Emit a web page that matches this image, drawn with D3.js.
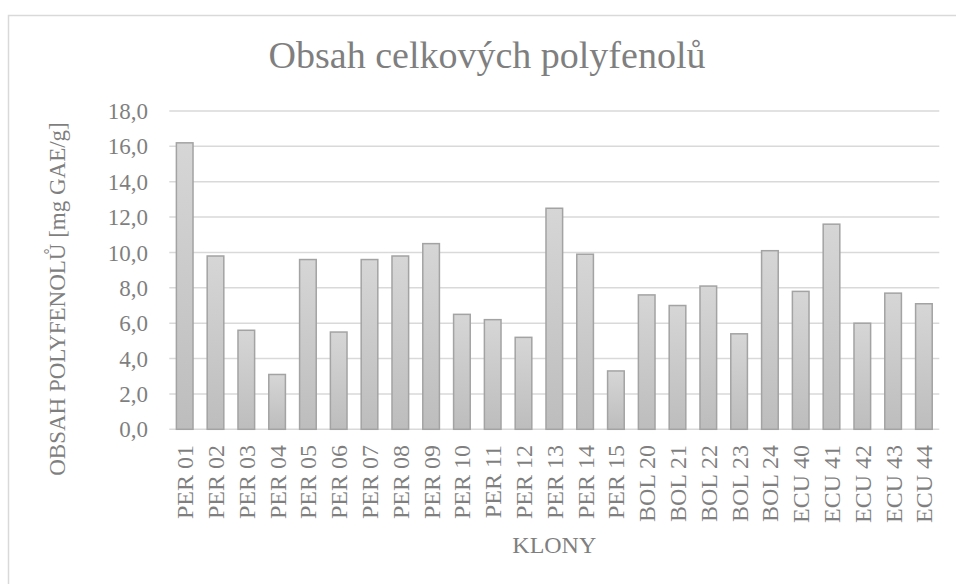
<!DOCTYPE html>
<html>
<head>
<meta charset="utf-8">
<script src="https://cdn.jsdelivr.net/npm/d3@7"></script>
<style>
  html, body { margin: 0; padding: 0; background: #fff; }
  svg text { font-family: "Times New Roman", "Liberation Serif", "DejaVu Serif", serif; }
</style>
</head>
<body>
<svg id="chart" width="956" height="584"></svg>
<script>
// Clones and their total polyphenol content [mg GAE/g]
const clones = ["PER 01","PER 02","PER 03","PER 04","PER 05","PER 06","PER 07","PER 08","PER 09",
  "PER 10","PER 11","PER 12","PER 13","PER 14","PER 15","BOL 20","BOL 21","BOL 22","BOL 23","BOL 24",
  "ECU 40","ECU 41","ECU 42","ECU 43","ECU 44"];
const polyphenols = [16.2, 9.8, 5.6, 3.1, 9.6, 5.5, 9.6, 9.8, 10.5, 6.5, 6.2, 5.2, 12.5, 9.9, 3.3,
  7.6, 7.0, 8.1, 5.4, 10.1, 7.8, 11.6, 6.0, 7.7, 7.1];
const yTicks = [0, 2, 4, 6, 8, 10, 12, 14, 16, 18];

const titleText = "Obsah celkových polyfenolů";
const xTitle = "KLONY";
const yTitle = "OBSAH POLYFENOLŮ [mg GAE/g]";

const svg = d3.select("#chart");
const serif = "'Times New Roman', 'Liberation Serif', 'DejaVu Serif', serif";
const textColor = "#7f7f7f";
const gridColor = "#d9d9d9";

const plot = { left: 169.3, right: 939.3, top: 111, bottom: 429.3 };

// Chart frame (open to the right and bottom)
svg.append("path")
  .attr("d", "M8.5,600 V15.5 H960")
  .attr("fill", "none")
  .attr("stroke", "#d9d9d9")
  .attr("stroke-width", 1.5);

const x = d3.scaleBand()
  .domain(clones)
  .range([plot.left, plot.right])
  .paddingInner(0.46)
  .paddingOuter(0.23);

const y = d3.scaleLinear()
  .domain([0, 18])
  .range([plot.bottom, plot.top]);

// Gridlines
svg.append("g")
  .selectAll("line")
  .data(yTicks)
  .join("line")
  .attr("x1", plot.left)
  .attr("x2", plot.right)
  .attr("y1", d => y(d))
  .attr("y2", d => y(d))
  .attr("stroke", gridColor)
  .attr("stroke-width", 1.5);

// Y axis labels
const fmt = d => d3.format(".1f")(d).replace(".", ",");
svg.append("g")
  .selectAll("text")
  .data(yTicks)
  .join("text")
  .attr("x", 148)
  .attr("y", d => y(d))
  .attr("dy", "0.35em")
  .attr("text-anchor", "end")
  .attr("font-family", serif)
  .attr("font-size", 23)
  .attr("fill", textColor)
  .text(fmt);

// Bar gradient
const defs = svg.append("defs");
const grad = defs.append("linearGradient")
  .attr("id", "barGrad")
  .attr("x1", 0).attr("y1", 0).attr("x2", 0).attr("y2", 1);
grad.append("stop").attr("offset", "0%").attr("stop-color", "#d6d6d6");
grad.append("stop").attr("offset", "100%").attr("stop-color", "#bdbdbd");

// Bars
svg.append("g")
  .selectAll("rect")
  .data(clones.map((c, i) => ({ c, v: polyphenols[i] })))
  .join("rect")
  .attr("x", d => x(d.c))
  .attr("width", x.bandwidth())
  .attr("y", d => y(d.v))
  .attr("height", d => y(0) - y(d.v))
  .attr("fill", "url(#barGrad)")
  .attr("stroke", "#a3a3a3")
  .attr("stroke-width", 1.5);

// X axis labels (rotated)
svg.append("g")
  .selectAll("text")
  .data(clones)
  .join("text")
  .attr("transform", d => `translate(${x(d) + x.bandwidth() / 2},445) rotate(-90)`)
  .attr("dy", "0.35em")
  .attr("text-anchor", "end")
  .attr("font-family", serif)
  .attr("font-size", 24)
  .attr("fill", textColor)
  .text(d => d);

// Title
svg.append("text")
  .attr("x", 487)
  .attr("y", 68)
  .attr("text-anchor", "middle")
  .attr("font-family", serif)
  .attr("font-size", 38)
  .attr("fill", textColor)
  .text(titleText);

// Axis titles
svg.append("text")
  .attr("x", (plot.left + plot.right) / 2)
  .attr("y", 553)
  .attr("text-anchor", "middle")
  .attr("font-family", serif)
  .attr("font-size", 24)
  .attr("fill", textColor)
  .text(xTitle);

svg.append("text")
  .attr("transform", "translate(65,299) rotate(-90)")
  .attr("text-anchor", "middle")
  .attr("font-family", serif)
  .attr("font-size", 23)
  .attr("fill", textColor)
  .text(yTitle);
</script>
</body>
</html>
